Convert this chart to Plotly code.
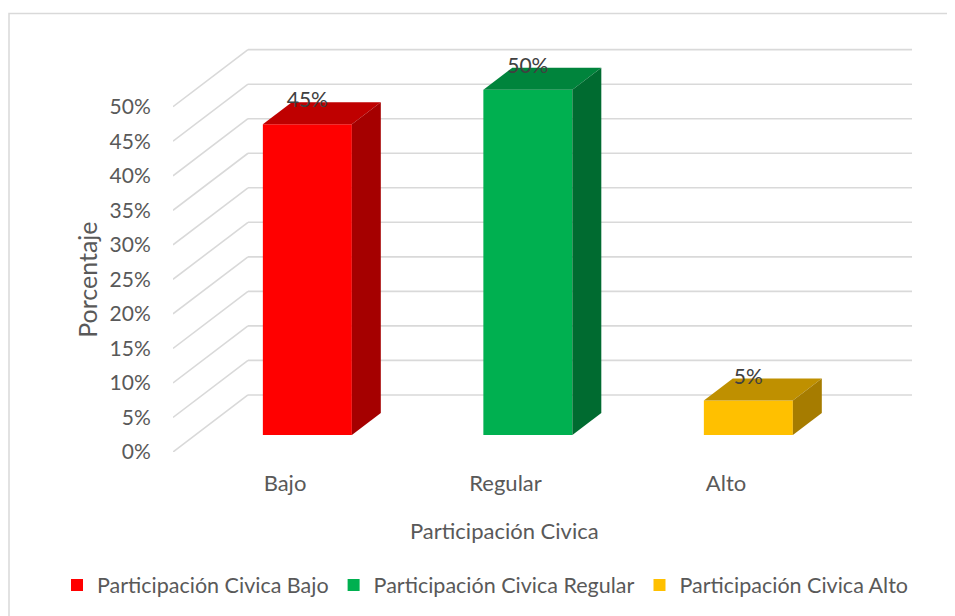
import plotly.graph_objects as go

# ---- data ----
categories = ["Bajo", "Regular", "Alto"]
values = [45, 50, 5]
series_names = ["Participación Civica Bajo", "Participación Civica Regular", "Participación Civica Alto"]
y_ticks = [0, 5, 10, 15, 20, 25, 30, 35, 40, 45, 50]
front_colors = ["#FF0000", "#00B050", "#FFC000"]
top_colors = ["#BF0000", "#00843C", "#BF9000"]
side_colors = ["#A50000", "#006B30", "#A67C00"]

# ---- layout geometry (pixels; page body has an 8px margin) ----
OFF = 8
W, H = 955 - OFF, 616 - OFF
L, R, B = 173 - OFF, 912 - OFF, 452 - OFF
PX_PER_PCT = 6.9
PX_PER_CAT = 220.5
YMAX = 58.5
T = B - YMAX * PX_PER_PCT
XMIN = -0.508
XMAX = XMIN + (R - L) / PX_PER_CAT

# oblique projection of depth (front plane -> back wall)
DXW = 75 / PX_PER_CAT
DYW = 57 / PX_PER_PCT
F0, F1 = 0.298, 0.684  # bar front / back depth fractions
BAR_W = 89 / PX_PER_CAT

TXT = "#595959"
FONT = "Lato"
GRID = "#D9D9D9"

fig = go.Figure()

# gridlines as shapes below traces (side wall diagonals + back wall)
shapes = []
for v in y_ticks:
    shapes.append(dict(type="line", xref="x", yref="y", layer="below",
                       x0=XMIN, y0=v, x1=XMIN + DXW, y1=v + DYW,
                       line=dict(color=GRID, width=1.6)))
    shapes.append(dict(type="line", xref="x", yref="y", layer="below",
                       x0=XMIN + DXW, y0=v + DYW, x1=XMAX, y1=v + DYW,
                       line=dict(color=GRID, width=1.6)))

# reference-pixel -> paper coordinate helpers
px2x = lambda p: (p - OFF - L) / (R - L)
px2y = lambda p: (B - (p - OFF)) / (B - T)

# chart border
shapes.append(dict(type="rect", xref="paper", yref="paper",
                   x0=px2x(9), y0=px2y(700), x1=px2x(1000), y1=px2y(14),
                   line=dict(color="#D9D9D9", width=1.5), fillcolor="rgba(0,0,0,0)"))

dx_b = (F1 - F0) * DXW
dy_b = (F1 - F0) * DYW
base = F0 * DYW
for i, (cat, v) in enumerate(zip(categories, values)):
    xc = i + F0 * DXW
    xl, xr = xc - BAR_W / 2, xc + BAR_W / 2
    fig.add_trace(go.Bar(x=[xc], y=[v], base=[base], width=[BAR_W],
                         name=series_names[i], marker=dict(color=front_colors[i], line=dict(width=0)),
                         hoverinfo="skip"))
    top = v + base
    fig.add_trace(go.Scatter(x=[xl, xr, xr + dx_b, xl + dx_b, xl],
                             y=[top, top, top + dy_b, top + dy_b, top],
                             fill="toself", mode="lines", line=dict(width=0, color=top_colors[i]),
                             fillcolor=top_colors[i], showlegend=False, hoverinfo="skip"))
    fig.add_trace(go.Scatter(x=[xr, xr + dx_b, xr + dx_b, xr, xr],
                             y=[base, base + dy_b, top + dy_b, top, base],
                             fill="toself", mode="lines", line=dict(width=0, color=side_colors[i]),
                             fillcolor=side_colors[i], showlegend=False, hoverinfo="skip"))

# data labels
fig.add_trace(go.Scatter(x=[i + F0 * DXW for i in range(len(values))],
                         y=[v + F1 * DYW for v in values],
                         text=[f"{v}%" for v in values], mode="text",
                         textfont=dict(family=FONT, size=21, color="#404040"),
                         showlegend=False, hoverinfo="skip"))

fig.update_layout(
    width=W, height=H,
    margin=dict(l=L, r=W - R, t=T, b=H - B, autoexpand=False),
    paper_bgcolor="white", plot_bgcolor="white",
    barmode="overlay",
    font=dict(family=FONT, color=TXT, size=22),
    shapes=shapes,
    showlegend=True,
    legend=dict(orientation="h", x=px2x(57), xanchor="left", y=px2y(585), yanchor="middle",
                font=dict(family=FONT, size=21.5, color=TXT), traceorder="normal",
                itemwidth=30, bgcolor="rgba(0,0,0,0)"),
    annotations=[
        dict(text="Porcentaje", textangle=-90, x=px2x(87), y=px2y(280), xref="paper", yref="paper",
             showarrow=False, font=dict(family=FONT, size=25, color=TXT), xanchor="center", yanchor="middle"),
        dict(text="Participación Civica", x=px2x(504), y=px2y(530), xref="paper", yref="paper",
             showarrow=False, font=dict(family=FONT, size=22, color=TXT), xanchor="center", yanchor="middle"),
    ],
)
fig.update_xaxes(range=[XMIN, XMAX], tickvals=list(range(len(categories))), ticktext=categories,
                 showgrid=False, zeroline=False, showline=False,
                 ticks="outside", ticklen=12, tickcolor="rgba(0,0,0,0)",
                 tickfont=dict(family=FONT, size=22, color=TXT))
fig.update_yaxes(range=[0, YMAX], tickvals=y_ticks, ticktext=[f"{v}%" for v in y_ticks],
                 showgrid=False, zeroline=False, showline=False,
                 ticks="outside", ticklen=17, tickcolor="rgba(0,0,0,0)",
                 tickfont=dict(family=FONT, size=21, color=TXT))

fig.write_html("out.html")
